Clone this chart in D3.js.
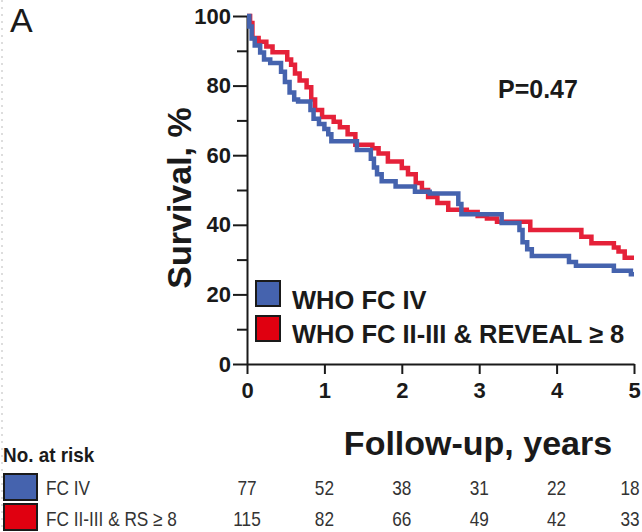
<!DOCTYPE html>
<html>
<head>
<meta charset="utf-8">
<script src="https://cdn.jsdelivr.net/npm/d3@7"></script>
<style>
  body { margin: 0; background: #fff; }
  svg { display: block; font-family: "Liberation Sans", Arial, sans-serif; }
</style>
</head>
<body>
<svg width="642" height="532"></svg>
<script>
// Kaplan-Meier steps (years, % surviving)
const fc4Time = [0, 0.03, 0.06, 0.10, 0.17, 0.22, 0.30, 0.44, 0.49, 0.55, 0.61, 0.66, 0.82, 0.86, 0.93, 1.00, 1.05, 1.09, 1.42, 1.60, 1.64, 1.68, 1.74, 1.92, 2.17, 2.36, 2.73, 2.77, 3.29, 3.52, 3.56, 3.62, 3.68, 4.16, 4.25, 4.74, 4.96, 5.0];
const fc4Surv = [100, 97, 93.5, 91.5, 89.5, 87.5, 86.5, 84, 81, 78, 76, 75.4, 73, 70.5, 69, 67.5, 66, 64, 61.5, 59, 56.5, 54.5, 52.5, 51, 49.5, 49, 46, 43, 40.5, 38.5, 35, 33, 31, 29.3, 28.2, 26.8, 25.8, 25.8];

const fc23Time = [0, 0.04, 0.07, 0.15, 0.25, 0.33, 0.52, 0.57, 0.62, 0.68, 0.77, 0.83, 0.88, 0.97, 1.12, 1.20, 1.30, 1.40, 1.62, 1.70, 1.82, 2.00, 2.08, 2.18, 2.26, 2.34, 2.46, 2.60, 2.84, 2.98, 3.10, 3.23, 3.66, 4.32, 4.45, 4.74, 4.80, 4.88, 5.0];
const fc23Surv = [100, 98, 93.7, 92.6, 91.2, 89.6, 87.5, 86, 83.5, 81.5, 79.5, 76, 73, 71, 69.6, 68, 66, 63, 62, 60.5, 58.2, 56.3, 54.5, 52, 50, 48, 46.3, 44.3, 43.7, 42.5, 41.8, 40.9, 38.5, 36.6, 34.7, 33.5, 32.3, 30.5, 30.5];

const xTicks = [0, 1, 2, 3, 4, 5];
const yMajor = [0, 20, 40, 60, 80, 100];
const yMinor = [10, 30, 50, 70, 90];

const legendLabels = ["WHO FC IV", "WHO FC II-III & REVEAL \u2265 8"];
const riskLabels = ["FC IV", "FC II-III & RS \u2265 8"];
const riskFc4 = [77, 52, 38, 31, 22, 18];
const riskFc23 = [115, 82, 66, 49, 42, 33];

const blue = "#4563ae";
const red = "#e52139";
const ink = "#1a1a1a";

const svg = d3.select("svg");

const x = d3.scaleLinear().domain([0, 5]).range([247, 634]);
const y = d3.scaleLinear().domain([0, 100]).range([364, 16]);

// dotted frame edge at the left
svg.append("line")
    .attr("x1", 2).attr("x2", 2).attr("y1", 0).attr("y2", 532)
    .attr("stroke", "#bbb").attr("stroke-dasharray", "2,5");

svg.append("text").attr("x", 10).attr("y", 32)
    .attr("font-size", 34).attr("fill", ink).text("A");

// axes
svg.append("g").attr("transform", "translate(247,0)")
    .call(d3.axisLeft(y).tickValues(yMajor).tickSize(14).tickSizeOuter(0).tickPadding(2));
svg.append("g").attr("transform", "translate(247,0)")
    .call(d3.axisLeft(y).tickValues(yMinor).tickSize(10).tickSizeOuter(0).tickFormat(""))
    .select(".domain").remove();
svg.append("g").attr("transform", "translate(0,364)")
    .call(d3.axisBottom(x).tickValues(xTicks).tickSize(10).tickSizeOuter(0)
        .tickPadding(8).tickFormat(d3.format("d")));

svg.selectAll(".tick line, .domain").attr("stroke", ink).attr("stroke-width", 2);
svg.selectAll(".tick text")
    .attr("font-family", "Liberation Sans, Arial, sans-serif")
    .attr("font-size", 22).attr("font-weight", "bold").attr("fill", ink);

// axis titles
svg.append("text")
    .attr("transform", "translate(191,198) rotate(-90)")
    .attr("text-anchor", "middle")
    .attr("font-size", 34).attr("font-weight", "bold").attr("fill", ink)
    .text("Survival, %");
svg.append("text")
    .attr("x", 478).attr("y", 455).attr("text-anchor", "middle")
    .attr("font-size", 34).attr("font-weight", "bold").attr("fill", ink)
    .text("Follow-up, years");

svg.append("text").attr("x", 498).attr("y", 98)
    .attr("font-size", 25).attr("font-weight", "bold").attr("fill", ink)
    .text("P=0.47");

// survival curves
const step = d3.line()
    .x(d => x(d[0]))
    .y(d => y(d[1]))
    .curve(d3.curveStepAfter);

svg.append("path")
    .attr("d", step(d3.zip(fc23Time, fc23Surv)))
    .attr("fill", "none").attr("stroke", red).attr("stroke-width", 4.5);
svg.append("path")
    .attr("d", step(d3.zip(fc4Time, fc4Surv)))
    .attr("fill", "none").attr("stroke", blue).attr("stroke-width", 4.5);

// legend
const legend = svg.append("g");
[blue, "#e00010"].forEach((c, i) => {
    legend.append("rect")
        .attr("x", 256).attr("y", 281 + i * 35).attr("width", 24).attr("height", 25)
        .attr("fill", c).attr("stroke", ink).attr("stroke-width", 2);
    legend.append("text")
        .attr("x", 292).attr("y", 309 + i * 34)
        .attr("font-size", 25.5).attr("font-weight", "bold").attr("fill", ink)
        .text(legendLabels[i]);
});

// number at risk table
const table = svg.append("g");
table.append("text")
    .attr("transform", "translate(3,462) scale(0.9,1)")
    .attr("font-size", 21).attr("font-weight", "bold").attr("fill", ink)
    .text("No. at risk");

[[riskFc4, blue, 495, 474], [riskFc23, "#e00010", 526, 504]].forEach(([vals, c, base, top], i) => {
    table.append("rect")
        .attr("x", 4).attr("y", top).attr("width", 33).attr("height", 26)
        .attr("fill", c).attr("stroke", ink).attr("stroke-width", 2);
    table.append("text")
        .attr("transform", `translate(46,${base}) scale(0.82,1)`)
        .attr("font-size", 21).attr("fill", "#333")
        .text(riskLabels[i]);
    table.selectAll(null).data(vals).enter().append("text")
        .attr("transform", (d, j) => `translate(${Math.min(x(xTicks[j]), 630)},${base}) scale(0.82,1)`)
        .attr("text-anchor", "middle")
        .attr("font-size", 21).attr("fill", "#333")
        .text(d => d);
});
</script>
</body>
</html>
